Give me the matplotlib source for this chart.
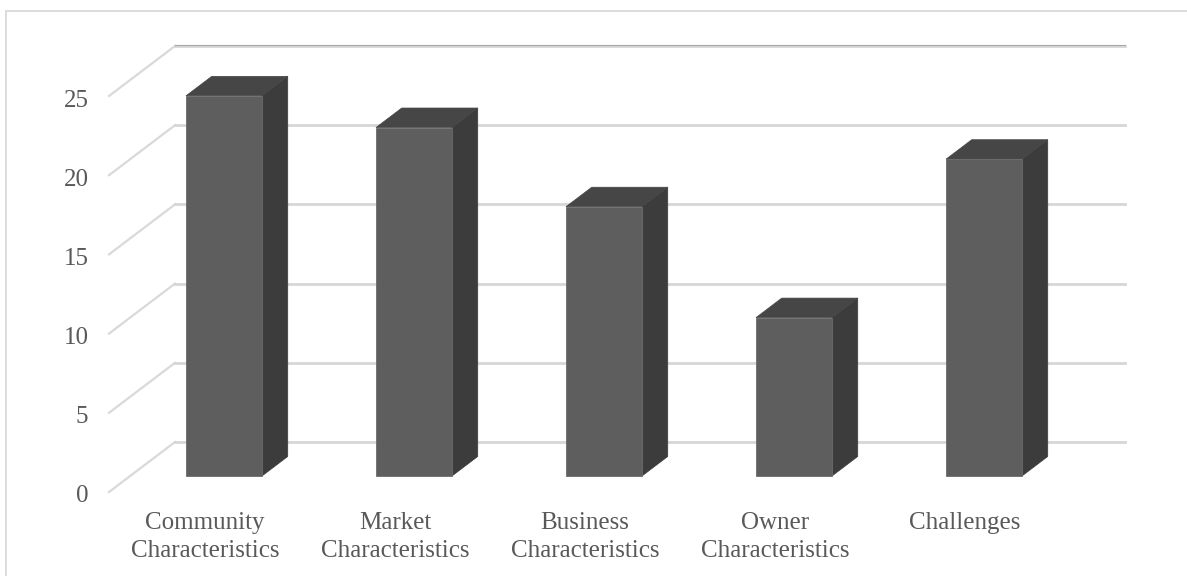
import matplotlib
matplotlib.use('Agg')
import matplotlib.pyplot as plt
from matplotlib.patches import Polygon, Rectangle

plt.rcParams['font.family'] = 'Liberation Serif'

categories = ['Community\nCharacteristics', 'Market\nCharacteristics', 'Business\nCharacteristics',
              'Owner\nCharacteristics', 'Challenges']
values = [24, 22, 17, 10, 20]
y_ticks = [0, 5, 10, 15, 20, 25]

W, H = 1187, 576
PX_X = 190.0    # pixels per category
PX_Y = 15.84    # pixels per value unit
X0, Y0 = 224, 492   # pixel spot of category 0 / value 0 on the front plane

fig = plt.figure(figsize=(W / 100, H / 100), dpi=100)
ax = fig.add_axes([0, 0, 1, 1])
ax.set_xlim(-X0 / PX_X, (W - X0) / PX_X)
ax.set_ylim((Y0 - H) / PX_Y, Y0 / PX_Y)
ax.axis('off')

# depth of the chart floor, in data units
depth_x = 66 / PX_X
depth_y = 50 / PX_Y
left = (109 - X0) / PX_X
right = (1125 - X0) / PX_X
half = 38 / PX_X

fig.add_artist(Rectangle((6 / W, -0.02), 1.02 - 6 / W, 1.02 - 10.5 / H, transform=fig.transFigure,
                         fill=False, edgecolor='#dcdcdc', linewidth=1.4))

for t in y_ticks:
    ax.plot([left, left + depth_x], [t, t + depth_y], color='#d9d9d9', linewidth=1.6, zorder=1)
    ax.plot([left + depth_x, right], [t + depth_y, t + depth_y], color='#d6d6d6', linewidth=2.0, zorder=1)
    ax.text(left - 20.5 / PX_X, t - 4.5 / PX_Y, str(t), ha='right', va='center', fontsize=18, color='#595959')
ax.plot([left + depth_x, right], [25 + depth_y + 1 / PX_Y] * 2, color='#a8a8a8', linewidth=0.8, zorder=1)

# bars sit from 0.32 to 0.71 of the floor depth
f1, f2 = 0.32, 0.71
d_x = (f2 - f1) * depth_x
d_y = (f2 - f1) * depth_y
b = f1 * depth_y
for i, v in enumerate(values):
    xl = i - half
    xr = i + half
    ax.add_patch(Polygon([(xr, b), (xr + d_x, b + d_y), (xr + d_x, b + v + d_y), (xr, b + v)],
                         facecolor='#3c3c3c', edgecolor='#3c3c3c', linewidth=0.5, zorder=3))
    ax.add_patch(Polygon([(xl, b + v), (xl + d_x, b + v + d_y), (xr + d_x, b + v + d_y), (xr, b + v)],
                         facecolor='#464646', edgecolor='#464646', linewidth=0.5, zorder=3))
    ax.add_patch(Rectangle((xl, b), xr - xl, v, facecolor='#5e5e5e', edgecolor='#6c6c6c', linewidth=0.6, zorder=4))
    ax.text(i - 19 / PX_X, (Y0 - 512) / PX_Y, categories[i], ha='center', va='top', fontsize=18,
            color='#595959', linespacing=1.38)

fig.savefig('out.png', dpi=100, facecolor='white')
